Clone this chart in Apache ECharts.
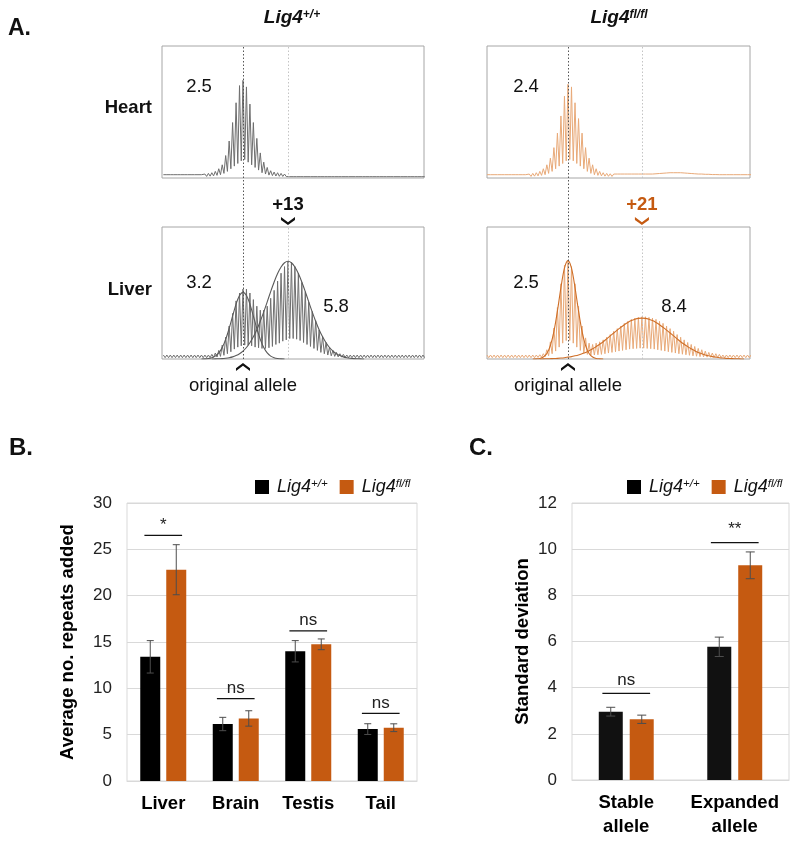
<!DOCTYPE html>
<html><head><meta charset="utf-8">
<script src="https://cdn.jsdelivr.net/npm/echarts@6/dist/echarts.min.js"></script>
<style>html,body{margin:0;padding:0;background:#fff}#c{width:800px;height:842px}</style>
</head><body><div id="c"></div>
<script>
const FONT = '"Liberation Sans", Arial, Helvetica, sans-serif';

// ---------- Panel A: repeat-length traces (x = repeats relative to original allele) ----------
const repeatStart = -23;
const heartWtPeaks = [2.5,2.5,2.5,2.5,2.5,2.5,2.5,2.5,2.5,2.5,2.5,2.5,
  3,3.5,4,5,7,10,17,28,42,57,70,74,69,56,42,30,19,12,8,5.5,4.5,4,3.5,3,
  2.5,2.5,2.5,2.5,2.5,2.5,2.5,2.5,2.5,2.5,2.5,2.5,2.5,2.5,2.5,2.5,2.5,2.5,2.5,2.5,
  2.5,2.5,2.5,2.5,2.5,2.5,2.5,2.5,2.5,2.5,2.5,2.5,2.5,2.5,2.5,2.5,2.5,2.5,2.5,2.5];
const heartWtValleys = [1,1,1,1,1,1,1,1,1,1,1,1,
  1.2,1.4,1.6,2,2.5,3.5,5,7,9,11,13,14,12,10,8,6,4,3,2.2,1.8,1.5,1.3,1.2,1.1,
  1,1,1,1,1,1,1,1,1,1,1,1,1,1,1,1,1,1,1,1,1,1,1,1,1,1,1,1,1,1,1,1,1,1,1,1,1,1,1,1];
const heartFlPeaks = [2.5,2.5,2.5,2.5,2.5,2.5,2.5,2.5,2.5,2.5,2.5,2.5,
  3,3.5,4,5,7,10,15,23,34,47,62,71,69,57,45,34,23,15,10,7,5,4,3.5,3.2,
  3,3,3,3,3,3,3,3,3,3,3,3,
  3.2,3.4,3.6,3.8,4,4,4,4,3.8,3.6,3.4,3.2,3,3,
  2.8,2.8,2.6,2.6,2.5,2.5,2.5,2.5,2.5,2.5,2.5,2.5,2.5,2.5];
const heartFlValleys = [1,1,1,1,1,1,1,1,1,1,1,1,
  1.2,1.4,1.6,2,2.5,3.5,5,7,9,11,13,14,13,11,9,7,5,3.5,2.5,2,1.6,1.4,1.3,1.2,
  1.5,1.5,1.5,1.5,1.5,1.5,1.5,1.5,1.5,1.5,1.5,1.5,
  2,2.2,2.4,2.6,2.8,2.8,2.8,2.8,2.6,2.4,2.2,2,1.8,1.6,
  1.4,1.4,1.4,1.2,1.2,1.2,1,1,1,1,1,1,1,1];
const liverWtPeaks = [3,3,3,3,3,3,3,3,3,3,3,3,3,3,
  3.5,4.5,6.5,10.5,16.5,25,34.5,44,50,53,53,50,45,40,37,37,40,46,52,59,65,70,74,73,70,65,58,51,43,36,29,22,17,12.5,9,6.5,5,4,3.5,
  3,3,3,3,3,3,3,3,3,3,3,3,3,3,3,3,3,3,3,3,3,3,3];
const liverWtValleys = [1,1,1,1,1,1,1,1,1,1,1,1,1,1,
  1.2,1.5,2,2.8,4,5.5,7.5,9,10,10.5,10.5,10,9,8.5,8,8,8.5,9.5,11,12,13.5,14.5,15.5,15.5,15,14,12.5,11,9.5,8,6.5,5,4,3,2.4,2,1.6,1.4,1.2,
  1,1,1,1,1,1,1,1,1,1,1,1,1,1,1,1,1,1,1,1,1,1,1];
const liverFlPeaks = [3,3,3,3,3,3,3,3,3,3,3,3,3,3,
  3,3.2,4,7,13,23.5,39,57,71,75,70,57,40,25,16,12,11,12,13,14.5,16.5,18.5,21,23,25,27,28.5,30,31,31.5,32,32,31.5,31,30,28.5,27,25,23,21,18.5,16.5,14.5,12.5,11,9.5,8,7,6,5,4.5,4,3.5,
  3,3,3,3,3,3,3,3,3];
const liverFlValleys = [1,1,1,1,1,1,1,1,1,1,1,1,1,1,
  1.2,1.4,1.8,2.5,4,6,9,12,14,14,12,9,6.5,4.5,3.5,3,3,3.2,3.5,4,4.5,5,5.5,6,6.5,7,7.5,7.8,8,8.2,8.2,8,7.8,7.5,7,6.5,6,5.5,5,4.5,4,3.6,3.2,2.8,2.4,2.1,1.8,1.6,1.4,1.3,1.2,1.1,1,
  1,1,1,1,1,1,1,1,1];
// Gaussian fit curves (value per repeat)
const liverWtFit1Start = -12;
const liverWtFit1 = [0,0.1,0.4,1.0,2.2,4.6,8.7,14.9,23.1,32.5,41.6,48.1,50.5,48.1,41.6,32.5,23.1,14.9,8.7,4.6,2.2,1.0,0.4,0.1,0];
const liverWtFit2Start = -9;
const liverWtFit2 = [0,0.1,0.2,0.3,0.6,1.0,1.6,2.6,4.0,6.0,8.7,12.3,16.8,22.2,28.6,35.7,43.3,51.0,58.3,64.7,69.7,72.9,74,72.9,69.7,64.7,58.3,51.0,43.3,35.7,28.6,22.2,16.8,12.3,8.7,6.0,4.0,2.6,1.6,1.0,0.6,0.3,0.2,0.1,0];
const liverFlFit1Start = -10;
const liverFlFit1 = [0,0.1,0.4,1.5,4.2,10.1,20.7,36.3,54.1,68.8,74.5,68.8,54.1,36.3,20.7,10.1,4.2,1.5,0.4,0.1,0];
const liverFlFit2Start = -8;
const liverFlFit2 = [0,0.1,0.2,0.25,0.35,0.5,0.7,1.0,1.4,1.8,2.4,3.1,4.0,5.0,6.3,7.7,9.4,11.2,13.1,15.3,17.5,19.7,21.9,24.0,26.0,27.7,29.1,30.1,30.8,31,
  30.8,30.1,29.1,27.7,26.0,24.0,21.9,19.7,17.5,15.3,13.1,11.2,9.4,7.7,6.3,5.0,4.0,3.1,2.4,1.8,1.4,1.0,0.7,0.5,0.35,0.25,0.2,0.1,0];
const originalAllele = 0;
const wtExpansion = 13;
const flExpansion = 21;
const sdLabelsHeart = ['2.5', '2.4'];
const sdLabelsLiverWt = ['3.2', '5.8'];
const sdLabelsLiverFl = ['2.5', '8.4'];

// ---------- Panel B ----------
const tissues = ['Liver', 'Brain', 'Testis', 'Tail'];
const repeatsWt = [13.4, 6.15, 14.0, 5.6];
const repeatsWtErr = [1.75, 0.72, 1.15, 0.58];
const repeatsFl = [22.8, 6.75, 14.75, 5.75];
const repeatsFlErr = [2.7, 0.83, 0.58, 0.42];
const sigB = ['*', 'ns', 'ns', 'ns'];
const sigBLevel = [26.5, 8.9, 16.2, 7.3];
const repeatTicks = [0, 30, 5];

// ---------- Panel C ----------
const alleles = ['Stable\nallele', 'Expanded\nallele'];
const sdWt = [2.96, 5.77];
const sdWtErr = [0.19, 0.42];
const sdFl = [2.63, 9.3];
const sdFlErr = [0.18, 0.58];
const sigC = ['ns', '**'];
const sigCLevel = [3.75, 10.28];
const sdTicks = [0, 12, 2];

// ---------- helpers ----------
function zigzag(peaks, valleys) {
  const d = [];
  for (let i = 0; i < peaks.length; i++) {
    const k = repeatStart + i;
    d.push([k, peaks[i]]);
    d.push([k + 0.5, valleys[i]]);
  }
  return d;
}
function curve(start, vals) { return vals.map((v, i) => [start + i, v]); }

const GREY_TRACE = '#6e6e6e', GREY_FIT = '#5a5a5a';
const OR_TRACE = '#e8a978', OR_FIT = '#cf6f28';
const ORANGE = '#c55a11', BLACK = '#000000';
const BOX = '#a6a6a6';

const chart = echarts.init(document.getElementById('c'), null, {renderer: 'canvas'});

const boxGrids = [
  {left: 162, top: 46, width: 262, height: 132},
  {left: 487, top: 46, width: 263, height: 132},
  {left: 162, top: 227, width: 262, height: 132},
  {left: 487, top: 227, width: 263, height: 132}
];
const grids = [];
boxGrids.forEach(g => grids.push(Object.assign({show: true, borderColor: BOX, borderWidth: 1, backgroundColor: 'transparent'}, g)));
grids.push({left: 162, top: 178, width: 262, height: 49});
grids.push({left: 487, top: 178, width: 263, height: 49});
grids.push({left: 162, top: 359, width: 262, height: 40});
grids.push({left: 487, top: 359, width: 263, height: 40});
grids.push({left: 127, top: 503, width: 290, height: 278, show: true, borderColor: '#d9d9d9', borderWidth: 1});
grids.push({left: 572, top: 503, width: 217, height: 277, show: true, borderColor: '#d9d9d9', borderWidth: 1});

const xRangeL = [-23.4, 52.3], xRangeR = [-23.0, 51.7];
const xAxes = [], yAxes = [];
for (let i = 0; i < 8; i++) {
  const r = (i % 2 === 0) ? xRangeL : xRangeR;
  xAxes.push({type: 'value', gridIndex: i, min: r[0], max: r[1], show: false});
  yAxes.push({type: 'value', gridIndex: i, min: 0, max: i < 4 ? 100 : 1, show: false});
}
xAxes.push({type: 'category', gridIndex: 8, data: tissues, axisTick: {show: false},
  axisLine: {lineStyle: {color: '#d9d9d9'}},
  axisLabel: {interval: 0, fontFamily: FONT, fontWeight: 'bold', fontSize: 18.5, color: '#000', margin: 13}});
yAxes.push({type: 'value', gridIndex: 8, min: repeatTicks[0], max: repeatTicks[1], interval: repeatTicks[2],
  axisLine: {show: false}, axisTick: {show: false},
  axisLabel: {fontFamily: FONT, fontSize: 17, color: '#222', margin: 15},
  splitLine: {lineStyle: {color: '#d9d9d9'}},
  name: 'Average no. repeats added', nameLocation: 'middle', nameGap: 50,
  nameTextStyle: {fontFamily: FONT, fontWeight: 'bold', fontSize: 18.5, color: '#000'}});
xAxes.push({type: 'category', gridIndex: 9, data: alleles, axisTick: {show: false},
  axisLine: {lineStyle: {color: '#d9d9d9'}},
  axisLabel: {interval: 0, fontFamily: FONT, fontWeight: 'bold', fontSize: 18.5, color: '#000', margin: 11, lineHeight: 24}});
yAxes.push({type: 'value', gridIndex: 9, min: sdTicks[0], max: sdTicks[1], interval: sdTicks[2],
  axisLine: {show: false}, axisTick: {show: false},
  axisLabel: {fontFamily: FONT, fontSize: 17, color: '#222', margin: 15},
  splitLine: {lineStyle: {color: '#d9d9d9'}},
  name: 'Standard deviation', nameLocation: 'middle', nameGap: 40,
  nameTextStyle: {fontFamily: FONT, fontWeight: 'bold', fontSize: 18.5, color: '#000'}});

function vlines(exp) {
  return {symbol: ['none', 'none'], silent: true, label: {show: false},
    data: [
      {xAxis: originalAllele, lineStyle: {color: '#555', type: [1.5, 2], width: 1}},
      {xAxis: exp, lineStyle: {color: '#c4c4c4', type: [1.5, 2], width: 1}}
    ]};
}
function trace(idx, data, color, exp) {
  return {type: 'line', xAxisIndex: idx, yAxisIndex: idx, data: data, showSymbol: false, silent: true,
    lineStyle: {color: color, width: 1}, itemStyle: {color: color}, markLine: vlines(exp)};
}
function fit(idx, data, color) {
  return {type: 'line', xAxisIndex: idx, yAxisIndex: idx, data: data, showSymbol: false, silent: true,
    smooth: 0.3, lineStyle: {color: color, width: 1.1}, itemStyle: {color: color}};
}
const chevronDown = 'path://M0,0 L7,5 L14,0 L14,2.8 L7,7.8 L0,2.8 Z';
const caretUp = 'path://M0,5 L7,0 L14,5 L14,7.8 L7,2.8 L0,7.8 Z';

function errRender(offset, capHalf) {
  return function (params, api) {
    const lo = api.coord([api.value(0), api.value(1)]);
    const hi = api.coord([api.value(0), api.value(2)]);
    const cx = lo[0] + offset;
    const st = {stroke: '#4d4d4d', lineWidth: 1};
    return {type: 'group', children: [
      {type: 'line', shape: {x1: cx, y1: lo[1], x2: cx, y2: hi[1]}, style: st},
      {type: 'line', shape: {x1: cx - capHalf, y1: hi[1], x2: cx + capHalf, y2: hi[1]}, style: st},
      {type: 'line', shape: {x1: cx - capHalf, y1: lo[1], x2: cx + capHalf, y2: lo[1]}, style: st}
    ]};
  };
}
function sigRender(labels, ratio, gap) {
  return function (params, api) {
    const p = api.coord([api.value(0), api.value(1)]);
    const half = api.size([1, 0])[0] * ratio;
    return {type: 'group', children: [
      {type: 'line', shape: {x1: p[0] - half, y1: p[1], x2: p[0] + half, y2: p[1]}, style: {stroke: '#111', lineWidth: 1.3}},
      {type: 'text', style: {text: labels[params.dataIndex], x: p[0], y: p[1] - gap, align: 'center', verticalAlign: 'bottom',
        fontFamily: FONT, fontSize: 17, fill: '#222'}}
    ]};
  };
}
function errData(mean, err) { return mean.map((m, i) => [i, m - err[i], m + err[i]]); }

const annLabel = {fontFamily: FONT, fontSize: 18.5, color: '#111', opacity: 1};
function annScatter(idx, x, y, symbol, color, labelPos, dist, text, bold) {
  return {type: 'scatter', xAxisIndex: idx, yAxisIndex: idx, silent: true, data: [[x, y]],
    symbol: symbol, symbolSize: [14, 8], itemStyle: {color: color, opacity: 1},
    label: Object.assign({}, annLabel, {show: true, position: labelPos, distance: dist, formatter: text,
      fontWeight: bold ? 'bold' : 'normal', color: color === ORANGE ? ORANGE : '#111'})};
}
const gapLine = {symbol: ['none', 'none'], silent: true, label: {show: false}, data: [{xAxis: originalAllele}],
  lineStyle: {color: '#555', type: [1.5, 2], width: 1}};

const wtChev = annScatter(4, wtExpansion, 0.12, chevronDown, '#111', 'top', 3, '+' + wtExpansion, true);
wtChev.markLine = gapLine;
const flChev = annScatter(5, flExpansion, 0.12, chevronDown, ORANGE, 'top', 3, '+' + flExpansion, true);
flChev.markLine = gapLine;

const series = [
  trace(0, zigzag(heartWtPeaks, heartWtValleys), GREY_TRACE, wtExpansion),
  trace(1, zigzag(heartFlPeaks, heartFlValleys), OR_TRACE, flExpansion),
  trace(2, zigzag(liverWtPeaks, liverWtValleys), GREY_TRACE, wtExpansion),
  fit(2, curve(liverWtFit1Start, liverWtFit1), GREY_FIT),
  fit(2, curve(liverWtFit2Start, liverWtFit2), GREY_FIT),
  trace(3, zigzag(liverFlPeaks, liverFlValleys), OR_TRACE, flExpansion),
  fit(3, curve(liverFlFit1Start, liverFlFit1), OR_FIT),
  fit(3, curve(liverFlFit2Start, liverFlFit2), OR_FIT),
  wtChev, flChev,
  annScatter(6, originalAllele, 0.8, caretUp, '#111', 'bottom', 5, 'original allele', false),
  annScatter(7, originalAllele, 0.8, caretUp, '#111', 'bottom', 5, 'original allele', false),
  // Panel B
  {name: 'Lig4+/+', type: 'bar', xAxisIndex: 8, yAxisIndex: 8, data: repeatsWt, barWidth: 20, barGap: '30%', itemStyle: {color: BLACK}},
  {name: 'Lig4fl/fl', type: 'bar', xAxisIndex: 8, yAxisIndex: 8, data: repeatsFl, barWidth: 20, barGap: '30%', itemStyle: {color: ORANGE}},
  {type: 'custom', xAxisIndex: 8, yAxisIndex: 8, silent: true, renderItem: errRender(-13, 3.5), data: errData(repeatsWt, repeatsWtErr), encode: {x: 0, y: [1, 2]}, z: 5},
  {type: 'custom', xAxisIndex: 8, yAxisIndex: 8, silent: true, renderItem: errRender(13, 3.5), data: errData(repeatsFl, repeatsFlErr), encode: {x: 0, y: [1, 2]}, z: 5},
  {type: 'custom', xAxisIndex: 8, yAxisIndex: 8, silent: true, renderItem: sigRender(sigB, 0.26, 2), data: sigBLevel.map((v, i) => [i, v]), encode: {x: 0, y: 1}, z: 5},
  // Panel C
  {name: 'Lig4+/+', type: 'bar', xAxisIndex: 9, yAxisIndex: 9, data: sdWt, barWidth: 24, barGap: '29%', itemStyle: {color: '#111'}},
  {name: 'Lig4fl/fl', type: 'bar', xAxisIndex: 9, yAxisIndex: 9, data: sdFl, barWidth: 24, barGap: '29%', itemStyle: {color: ORANGE}},
  {type: 'custom', xAxisIndex: 9, yAxisIndex: 9, silent: true, renderItem: errRender(-15.5, 4.5), data: errData(sdWt, sdWtErr), encode: {x: 0, y: [1, 2]}, z: 5},
  {type: 'custom', xAxisIndex: 9, yAxisIndex: 9, silent: true, renderItem: errRender(15.5, 4.5), data: errData(sdFl, sdFlErr), encode: {x: 0, y: [1, 2]}, z: 5},
  {type: 'custom', xAxisIndex: 9, yAxisIndex: 9, silent: true, renderItem: sigRender(sigC, 0.22, 5), data: sigCLevel.map((v, i) => [i, v]), encode: {x: 0, y: 1}, z: 5}
];

const legRich = {
  a: {fontFamily: FONT, fontStyle: 'italic', fontSize: 18, color: '#111', padding: [0, 0, 0, 3]},
  s: {fontFamily: FONT, fontStyle: 'italic', fontSize: 11.5, color: '#111', verticalAlign: 'top'}
};
function legFmt(name) { return name === 'Lig4+/+' ? '{a|Lig4}{s|+/+}' : '{a|Lig4}{s|fl/fl}'; }
const legendBase = {data: ['Lig4+/+', 'Lig4fl/fl'], orient: 'horizontal', width: 400, icon: 'rect', itemWidth: 14, itemHeight: 14, itemGap: 12,
  formatter: legFmt, textStyle: {rich: legRich}, selectedMode: false, padding: 0};

const titleRich = {
  a: {fontFamily: FONT, fontStyle: 'italic', fontWeight: 'bold', fontSize: 19, fill: '#111'},
  s: {fontFamily: FONT, fontStyle: 'italic', fontWeight: 'bold', fontSize: 12, fill: '#111', verticalAlign: 'top'}
};
function txt(x, y, text, size, weight, align) {
  return {type: 'text', x: x, y: y, silent: true, style: {text: text, fontFamily: FONT, fontSize: size, fontWeight: weight || 'normal',
    fill: '#111', align: align || 'center', verticalAlign: 'middle'}};
}

chart.setOption({
  animation: false,
  backgroundColor: '#fff',
  grid: grids,
  xAxis: xAxes,
  yAxis: yAxes,
  legend: [Object.assign({left: 255, top: 478}, legendBase), Object.assign({left: 627, top: 478}, legendBase)],
  series: series,
  graphic: [
    txt(8, 29, 'A.', 23, 'bold', 'left'),
    txt(9, 448, 'B.', 24, 'bold', 'left'),
    txt(469, 448, 'C.', 24, 'bold', 'left'),
    {type: 'text', x: 292, y: 18, silent: true, style: {text: '{a|Lig4}{s|+/+}', rich: titleRich, align: 'center', verticalAlign: 'middle'}},
    {type: 'text', x: 619, y: 18, silent: true, style: {text: '{a|Lig4}{s|fl/fl}', rich: titleRich, align: 'center', verticalAlign: 'middle'}},
    txt(152, 108, 'Heart', 18.5, 'bold', 'right'),
    txt(152, 290, 'Liver', 18.5, 'bold', 'right'),
    txt(199, 87, sdLabelsHeart[0], 18.5),
    txt(526, 87, sdLabelsHeart[1], 18.5),
    txt(199, 283, sdLabelsLiverWt[0], 18.5),
    txt(336, 307, sdLabelsLiverWt[1], 18.5),
    txt(526, 283, sdLabelsLiverFl[0], 18.5),
    txt(674, 307, sdLabelsLiverFl[1], 18.5)
  ]
});
</script>
</body></html>
